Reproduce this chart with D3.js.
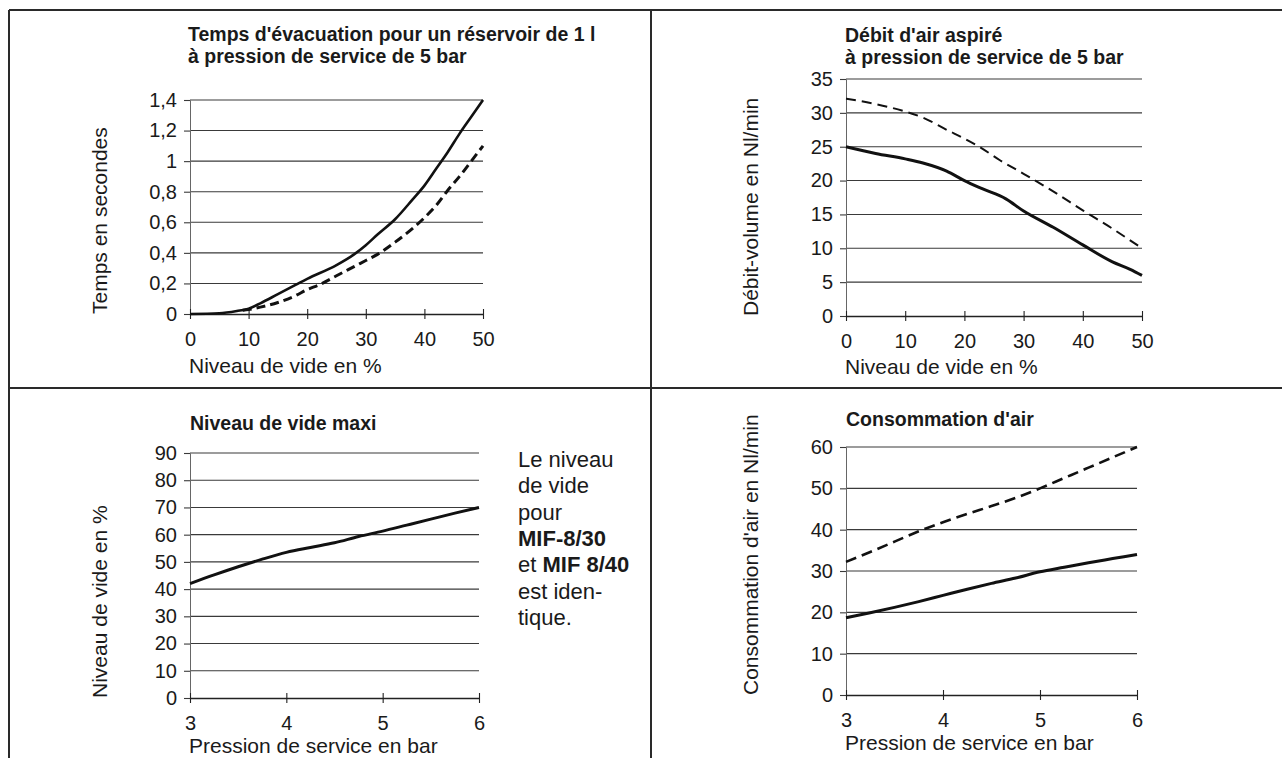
<!DOCTYPE html>
<html><head><meta charset="utf-8">
<script src="https://cdn.jsdelivr.net/npm/d3@7"></script>
<style>
html,body{margin:0;padding:0;background:#fff;}
svg{display:block;font-family:"Liberation Sans",Arial,Helvetica,sans-serif;}
</style></head><body>
<svg id="c" width="1282" height="758"></svg>
<script>
// ---------- data ----------
const vacX = [0,5,8,10,12,15,18,20,25,28,30,32,35,38,40,42,44,46,48,50];
const evacSolid = [0,0.005,0.02,0.035,0.07,0.13,0.19,0.23,0.32,0.39,0.45,0.52,0.62,0.75,0.84,0.95,1.06,1.18,1.29,1.4];
const vacXDash = [9,10,12,15,18,20,22,25,28,30,32,35,38,40,42,44,46,48,50];
const evacDashed = [0.025,0.03,0.045,0.075,0.12,0.16,0.19,0.25,0.31,0.35,0.39,0.47,0.56,0.63,0.71,0.81,0.9,1.0,1.1];

const flowX = [0,5,10,13,17,20,23,27,30,35,40,45,48,50];
const flowSolid = [25,24,23.2,22.6,21.4,20,18.8,17.3,15.5,13.1,10.5,8,6.9,6];
const flowXDash = [0,5,10,13,17,20,22.5,26,30,35,40,45,50];
const flowDashed = [32.1,31.3,30.2,29.3,27.5,26.2,25,23,21,18.4,15.6,12.9,10];

const pressX = [3,3.25,3.5,3.75,4,4.25,4.5,4.75,5,5.25,5.5,5.75,6];
const vacMax = [42,45.2,48.2,51,53.5,55.3,57,59.3,61.3,63.5,65.7,67.9,70];
const consSolid = [18.7,19.9,21.2,22.6,24.1,25.6,27,28.3,29.8,30.9,32,33,34];
const consDashed = [32.2,34.6,37.1,39.6,41.8,43.8,45.7,47.7,50,52.5,55,57.5,60];

const vacXTicks = [0,10,20,30,40,50];
const pressTicks = [3,4,5,6];
const evacYTicks = [0,0.2,0.4,0.6,0.8,1,1.2,1.4];
const evacYLabels = ["0","0,2","0,4","0,6","0,8","1","1,2","1,4"];
const flowYTicks = [0,5,10,15,20,25,30,35];
const vacMaxYTicks = [0,10,20,30,40,50,60,70,80,90];
const consYTicks = [0,10,20,30,40,50,60];

const titles = [
  ["Temps d'évacuation pour un réservoir de 1 l","à pression de service de 5 bar"],
  ["Débit d'air aspiré","à pression de service de 5 bar"],
  ["Niveau de vide maxi"],
  ["Consommation d'air"]
];
const yTitles = ["Temps en secondes","Débit-volume en Nl/min","Niveau de vide en %","Consommation d'air en Nl/min"];
const xTitles = ["Niveau de vide en %","Niveau de vide en %","Pression de service en bar","Pression de service en bar"];
const sideText = [["Le niveau"],["de vide"],["pour"],["","MIF-8/30"],["et ","MIF 8/40"],["est iden-"],["tique."]];

// ---------- drawing ----------
const svg = d3.select("#c");
const INK = "#1a1a1a";

// frame
const frame = svg.append("g").attr("stroke","#2a2a2a").attr("stroke-width",2).attr("fill","none");
frame.append("line").attr("x1",9).attr("x2",1282).attr("y1",10).attr("y2",10);
frame.append("line").attr("x1",9).attr("x2",9).attr("y1",10).attr("y2",758);
frame.append("line").attr("x1",9).attr("x2",1282).attr("y1",388).attr("y2",388);
frame.append("line").attr("x1",651).attr("x2",651).attr("y1",10).attr("y2",758);

const panels = [
  {xd:[0,50], xr:[190,483], yd:[0,1.4], yr:[314,100], xt:vacXTicks, yt:evacYTicks, yl:evacYLabels,
   title:titles[0], tx:188, ty:41, ytl:yTitles[0], ytx:107, xtl:xTitles[0], xty:373,
   series:[{x:vacX,y:evacSolid,dash:null,w:2.6},{x:vacXDash,y:evacDashed,dash:"9,5",w:3}]},
  {xd:[0,50], xr:[846,1142], yd:[0,35], yr:[316,79], xt:vacXTicks, yt:flowYTicks, yl:flowYTicks.map(String),
   title:titles[1], tx:845, ty:42, ytl:yTitles[1], ytx:758, xtl:xTitles[1], xty:374,
   series:[{x:flowX,y:flowSolid,dash:null,w:3},{x:flowXDash,y:flowDashed,dash:"10,6",w:2}]},
  {xd:[3,6], xr:[190,479], yd:[0,90], yr:[698,453], xt:pressTicks, yt:vacMaxYTicks, yl:vacMaxYTicks.map(String),
   title:titles[2], tx:190, ty:430, ytl:yTitles[2], ytx:107, xtl:xTitles[2], xty:753,
   series:[{x:pressX,y:vacMax,dash:null,w:3}]},
  {xd:[3,6], xr:[846,1137], yd:[0,60], yr:[695,447], xt:pressTicks, yt:consYTicks, yl:consYTicks.map(String),
   title:titles[3], tx:846, ty:426, ytl:yTitles[3], ytx:758, xtl:xTitles[3], xty:750,
   series:[{x:pressX,y:consSolid,dash:null,w:3},{x:pressX,y:consDashed,dash:"11,6",w:2.6}]}
];

panels.forEach(p => {
  const x = d3.scaleLinear().domain(p.xd).range(p.xr);
  const y = d3.scaleLinear().domain(p.yd).range(p.yr);
  const g = svg.append("g");

  // gridlines
  g.append("g").selectAll("line").data(p.yt.filter(v => v !== p.yd[0])).join("line")
    .attr("x1", p.xr[0]).attr("x2", p.xr[1])
    .attr("y1", d => y(d)).attr("y2", d => y(d))
    .attr("stroke", "#3a3a3a").attr("stroke-width", 1.1);

  // y axis
  const ya = g.append("g").attr("transform", `translate(${p.xr[0]},0)`)
    .call(d3.axisLeft(y).tickValues(p.yt).tickFormat((d,i) => p.yl[i]).tickSize(6).tickPadding(7));
  ya.select(".domain").attr("stroke", "#666").attr("stroke-width", 1);
  ya.selectAll(".tick line").attr("stroke", "#3a3a3a").attr("stroke-width", 1.1);
  ya.selectAll("text").attr("font-size", 20).attr("fill", INK).attr("font-family", null);

  // x axis
  const xa = g.append("g").attr("transform", `translate(0,${p.yr[0]})`)
    .call(d3.axisBottom(x).tickValues(p.xt).tickFormat(d3.format("d")).tickSize(5).tickSizeOuter(0).tickPadding(13));
  xa.select(".domain").attr("stroke", "#222").attr("stroke-width", 1.3);
  xa.selectAll(".tick line").attr("y1", -5).attr("y2", 5).attr("stroke", "#222").attr("stroke-width", 1.1);
  xa.selectAll("text").attr("font-size", 20).attr("fill", INK).attr("font-family", null);

  // series
  p.series.forEach(s => {
    const pts = s.x.map((xv,i) => [xv, s.y[i]]);
    g.append("path").datum(pts)
      .attr("d", d3.line().x(d => x(d[0])).y(d => y(d[1])).curve(d3.curveMonotoneX))
      .attr("fill", "none").attr("stroke", "#111").attr("stroke-width", s.w)
      .attr("stroke-dasharray", s.dash).attr("stroke-linecap", "butt");
  });

  // title
  const t = g.append("text").attr("x", p.tx).attr("y", p.ty)
    .attr("font-size", 19.5).attr("font-weight", "bold").attr("fill", INK);
  p.title.forEach((line,i) => t.append("tspan").attr("x", p.tx).attr("dy", i === 0 ? 0 : 22).text(line));

  // y title
  g.append("text").attr("transform", `translate(${p.ytx},${p.yr[0]}) rotate(-90)`)
    .attr("font-size", 21).attr("fill", INK).text(p.ytl);

  // x title
  g.append("text").attr("x", p.xr[0] - 1).attr("y", p.xty)
    .attr("font-size", 21).attr("fill", INK).text(p.xtl);
});

// side note
const note = svg.append("text").attr("font-size", 22).attr("fill", INK);
sideText.forEach((parts,i) => {
  const ln = note.append("tspan").attr("x", 518).attr("y", 467 + i * 26.3);
  if (parts[0]) ln.append("tspan").text(parts[0]);
  if (parts[1]) ln.append("tspan").attr("font-weight", "bold").text(parts[1]);
});
</script>
</body></html>
